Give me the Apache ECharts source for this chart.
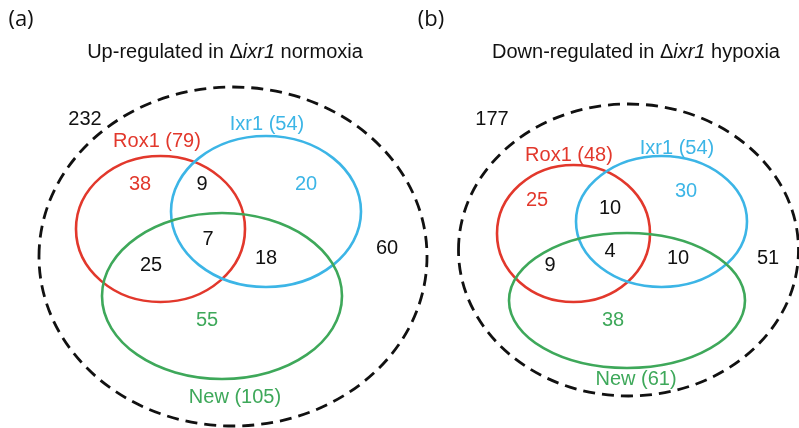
<!DOCTYPE html>
<html>
<head>
<meta charset="utf-8">
<script src="https://cdn.jsdelivr.net/npm/echarts@6/dist/echarts.min.js"></script>
<style>
  html, body { margin: 0; padding: 0; background: #fff; }
  #chart { width: 799px; height: 428px; }
</style>
</head>
<body>
<div id="chart"></div>
<script>
// ---- data ----
const setNames = ['Rox1', 'Ixr1', 'New'];
// region counts: [Rox1 only, Ixr1 only, New only, Rox1∩Ixr1, Rox1∩New, Ixr1∩New, all three, none]
const regionsUpNormoxia = [38, 20, 55, 9, 25, 18, 7, 60];
const regionsDownHypoxia = [25, 30, 38, 10, 9, 10, 4, 51];
const panelTags = ['(a)', '(b)'];
const panelTitles = [
  ['Up-regulated in Δ', 'ixr1', ' normoxia'],
  ['Down-regulated in Δ', 'ixr1', ' hypoxia']
];

// ---- style ----
const COLORS = ['#e2382c', '#3cb5e6', '#3ea85a'];
const FONT = '"Liberation Sans", Arial, sans-serif';

// set totals and universe size derived from the region counts
function setTotals(r) {
  return [
    r[0] + r[3] + r[4] + r[6],
    r[1] + r[3] + r[5] + r[6],
    r[2] + r[4] + r[5] + r[6]
  ];
}
function universe(r) { return r.reduce((a, b) => a + b, 0); }

// ---- layout (pixel geometry of each panel) ----
const layouts = [
  {
    tag: [21, 20], title: [225, 52],
    outer: [233, 256.5, 194, 169.5],
    sets: [[160.5, 229, 84.5, 73], [266, 211.5, 95, 75.5], [222, 296, 120, 83]],
    setLabels: [[157, 141], [267, 124], [235, 397]],
    regionPos: [[140, 184], [306, 184], [207, 320], [202, 184], [151, 265], [266, 258], [208, 239], [387, 248]],
    universePos: [85, 119]
  },
  {
    tag: [431, 20], title: [636, 52],
    outer: [628.5, 250, 170, 146],
    sets: [[573.5, 233.5, 76.5, 68.5], [661.5, 221.5, 85.5, 65.5], [627, 300.5, 118, 67.5]],
    setLabels: [[569, 155], [677, 148], [636, 379]],
    regionPos: [[537, 200], [686, 191], [613, 320], [610, 208], [550, 265], [678, 258], [610, 251], [768, 258]],
    universePos: [492, 119]
  }
];
const regionData = [regionsUpNormoxia, regionsDownHypoxia];
// colour index per region: set-only regions take their set colour, overlaps black
const regionColor = [0, 1, 2, -1, -1, -1, -1, -1];

function text(x, y, str, color, size, extra) {
  return Object.assign({
    type: 'text', x: x, y: y, z: 10,
    style: {
      text: str, fill: color, font: size + 'px ' + FONT,
      align: 'center', verticalAlign: 'middle'
    }
  }, extra || {});
}

const elements = [];
layouts.forEach((L, p) => {
  const r = regionData[p];
  const totals = setTotals(r);

  // panel tag
  elements.push({
    type: 'text', x: L.tag[0], y: L.tag[1],
    style: { text: panelTags[p], fill: '#111', font: '22px "Open Sans", sans-serif', align: 'center', verticalAlign: 'middle' }
  });

  // title with italic gene name
  const t = panelTitles[p];
  elements.push({
    type: 'text', x: L.title[0], y: L.title[1],
    style: {
      text: '{n|' + t[0] + '}{i|' + t[1] + '}{n|' + t[2] + '}',
      align: 'center', verticalAlign: 'middle',
      rich: {
        n: { fill: '#111', font: '20px ' + FONT },
        i: { fill: '#111', font: 'italic 20px ' + FONT }
      }
    }
  });

  // dashed universe boundary
  elements.push({
    type: 'ellipse',
    shape: { cx: L.outer[0], cy: L.outer[1], rx: L.outer[2], ry: L.outer[3] },
    style: { fill: null, stroke: '#111', lineWidth: 2.8, lineDash: [12, 7] }
  });

  // the three sets
  L.sets.forEach((s, i) => {
    elements.push({
      type: 'ellipse',
      shape: { cx: s[0], cy: s[1], rx: s[2], ry: s[3] },
      style: { fill: null, stroke: COLORS[i], lineWidth: 2.6 }
    });
    elements.push(text(L.setLabels[i][0], L.setLabels[i][1],
      setNames[i] + ' (' + totals[i] + ')', COLORS[i], 20));
  });

  // region counts
  r.forEach((v, k) => {
    const c = regionColor[k] >= 0 ? COLORS[regionColor[k]] : '#111';
    elements.push(text(L.regionPos[k][0], L.regionPos[k][1], String(v), c, 20));
  });

  // universe size
  elements.push(text(L.universePos[0], L.universePos[1], String(universe(r)), '#111', 20));
});

const chart = echarts.init(document.getElementById('chart'), null, { renderer: 'canvas' });
chart.setOption({
  backgroundColor: '#fff',
  animation: false,
  graphic: { elements: elements }
});
</script>
</body>
</html>
